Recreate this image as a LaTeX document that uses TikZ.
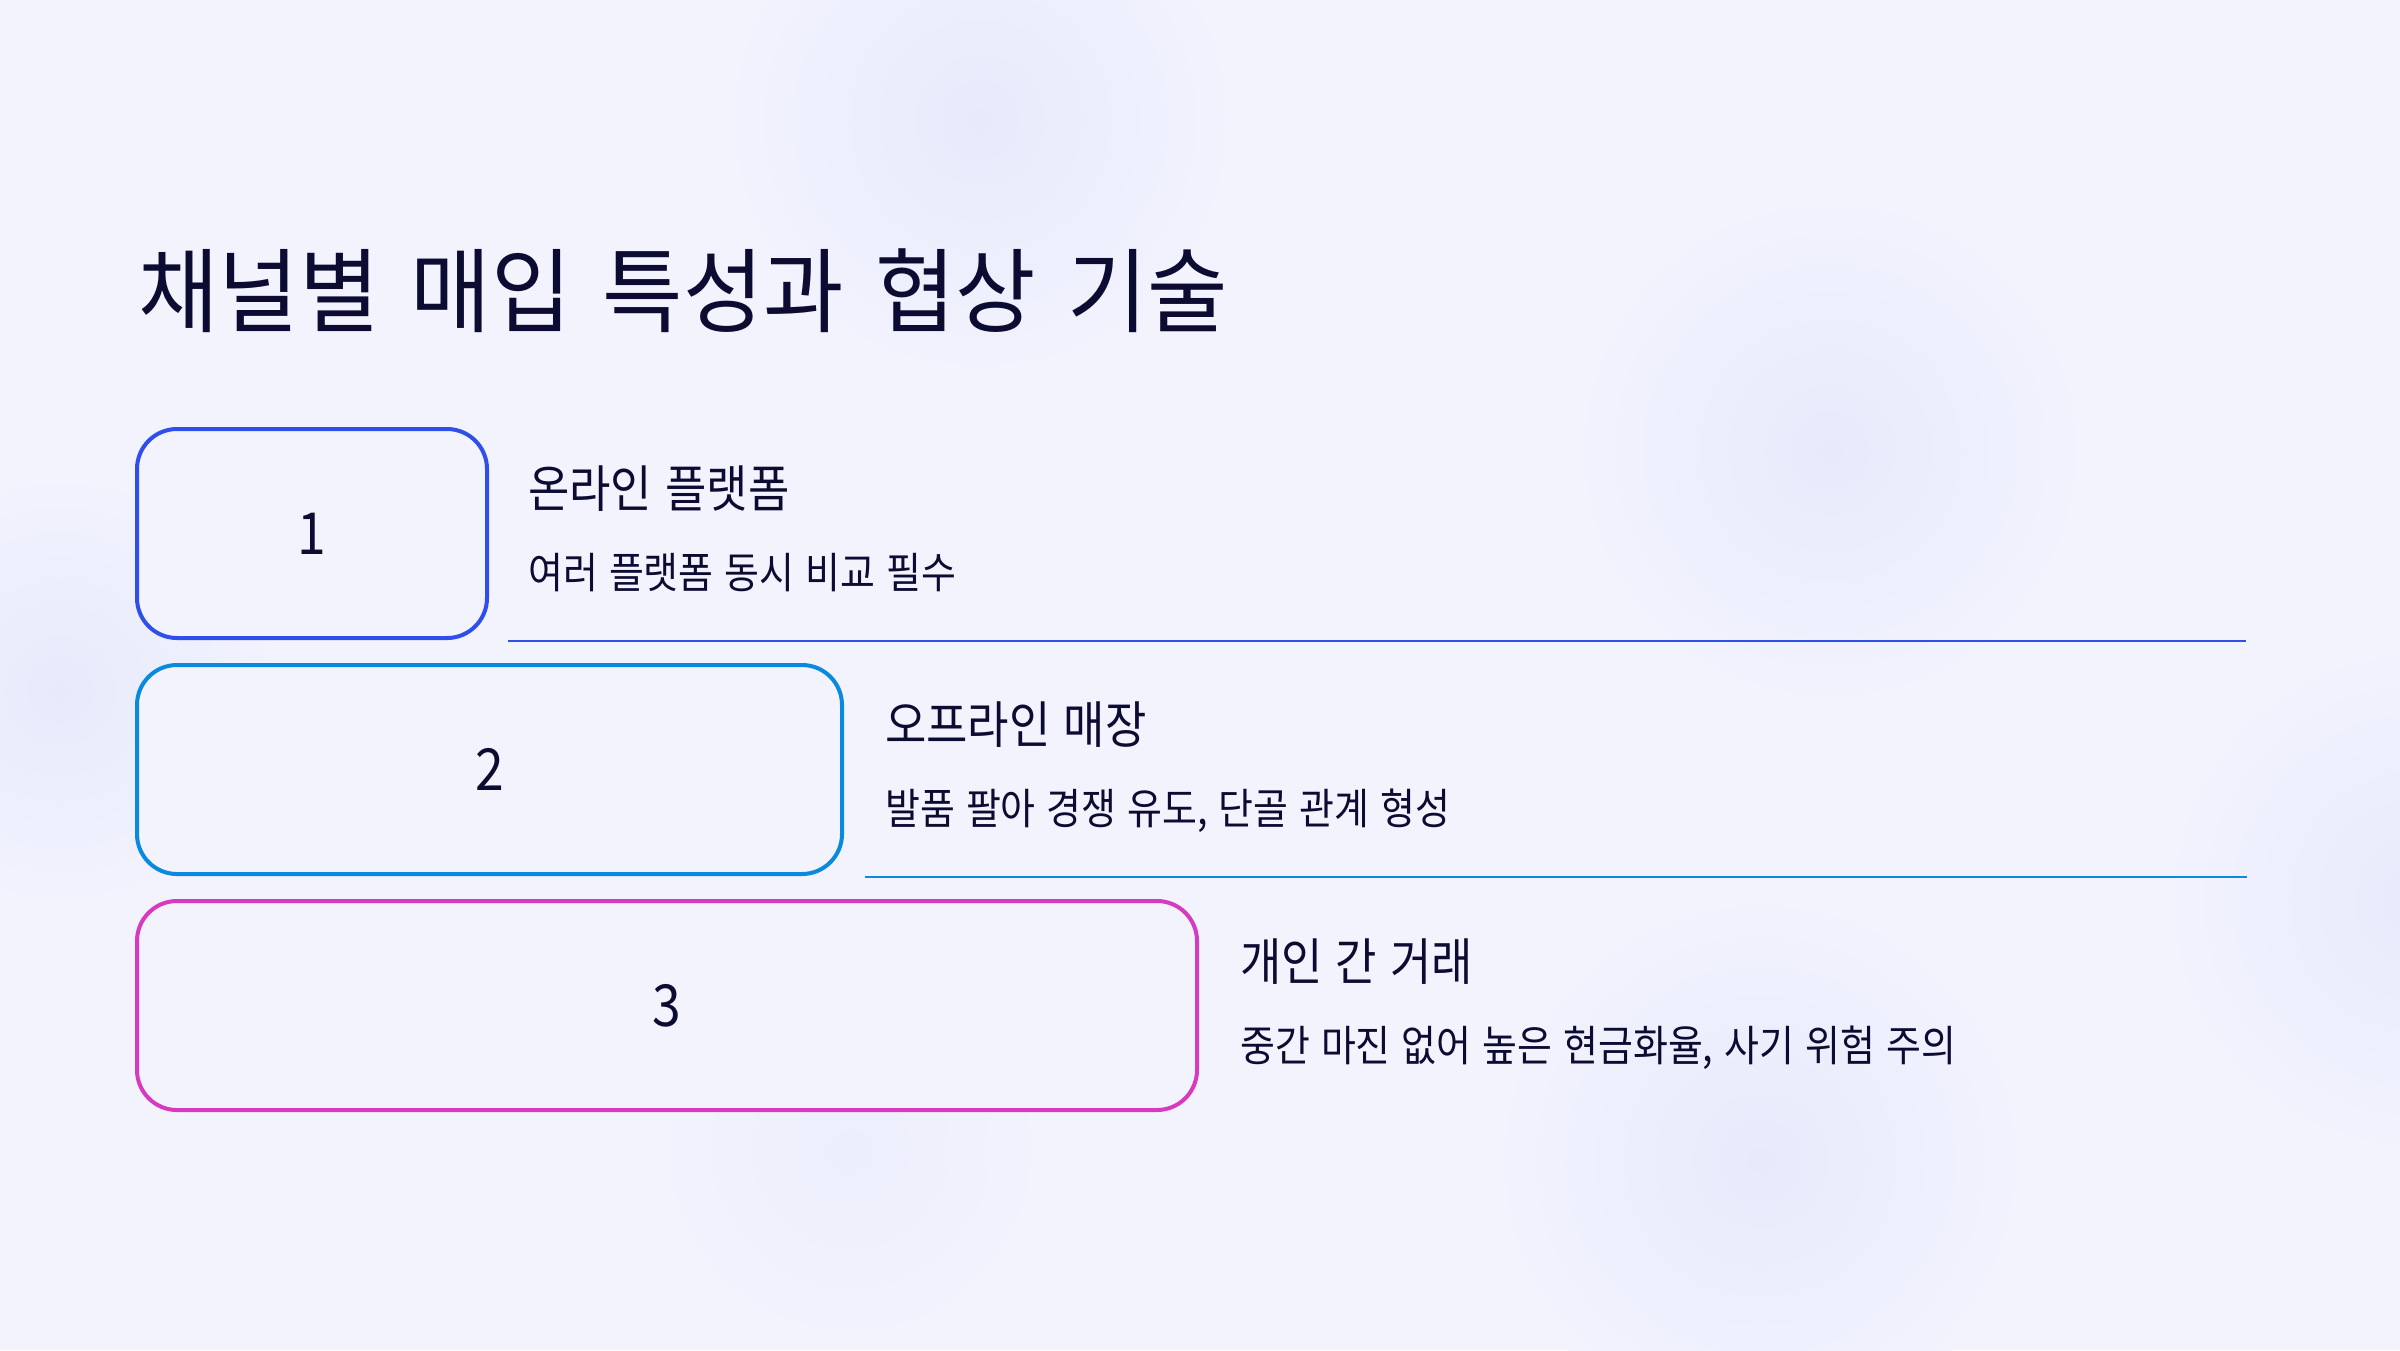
\documentclass[tikz,border=0pt]{standalone}
\usepackage{fontspec}
\newfontfamily\krtitle[FakeStretch=0.95, WordSpace=1.6]{Noto Sans CJK KR}
\newfontfamily\kr[FakeStretch=0.89, WordSpace=1.3]{Noto Sans CJK KR}
\definecolor{bg}{RGB}{242,243,253}
\definecolor{blob}{RGB}{232,234,252}
\definecolor{blobl}{RGB}{237,238,252}
\definecolor{boxfill}{RGB}{243,243,254}
\definecolor{ink}{RGB}{12,12,50}
\definecolor{cone}{RGB}{47,79,234}
\definecolor{ctwo}{RGB}{10,138,223}
\definecolor{cthree}{RGB}{214,58,192}
\tikzset{
  numbox/.style={draw, line width=4pt, rounded corners=40pt, fill=boxfill, inner sep=0pt,
    anchor=north west, minimum height=209pt, text=ink,
    font=\kr\fontsize{58}{66}\selectfont},
  headtxt/.style={anchor=base west, inner sep=0pt, text=ink, font=\kr\fontsize{50.5}{60}\selectfont},
  subtxt/.style={anchor=base west, inner sep=0pt, text=ink, font=\kr\fontsize{42.6}{52}\selectfont},
  divider/.style={line width=2.5pt},
}
\begin{document}
\begin{tikzpicture}[x=1pt,y=-1pt]
\fill[bg] (0,0) rectangle (2400,1350);
\useasboundingbox (0,0) rectangle (2400,1350);
% soft background blobs
\shade[inner color=blob, outer color=bg] (980,120) circle (260);
\shade[inner color=blob, outer color=bg] (1830,450) circle (260);
\shade[inner color=blob, outer color=bg] (1760,1160) circle (270);
\shade[inner color=blob, outer color=bg] (60,690) circle (220);
\shade[inner color=blob, outer color=bg] (2420,900) circle (260);
\shade[inner color=blobl, outer color=bg] (850,1150) circle (200);

% title
\node[anchor=base west, inner sep=0pt, text=ink, font=\krtitle\fontsize{92}{110}\selectfont] (title) at (138,325) {채널별 매입 특성과 협상 기술};

% boxes
\node[numbox, draw=cone, minimum width=350pt] (b1) at (135,427) {1};
\node[numbox, draw=ctwo, minimum width=705pt] (b2) at (135,663) {2};
\node[numbox, draw=cthree, minimum width=1060pt] (b3) at (135,899) {3};

% texts
\node[headtxt] (h1) at (528,507) {온라인 플랫폼};
\node[subtxt] (s1) at (528,588) {여러 플랫폼 동시 비교 필수};
\node[headtxt] (h2) at (885,743) {오프라인 매장};
\node[subtxt] (s2) at (885,824) {발품 팔아 경쟁 유도, 단골 관계 형성};
\node[headtxt] (h3) at (1240,980) {개인 간 거래};
\node[subtxt] (s3) at (1240,1061) {중간 마진 없어 높은 현금화율, 사기 위험 주의};

% dividers
\coordinate (l1a) at (508,641);
\coordinate (l1b) at (2246,641);
\coordinate (l2a) at (865,877);
\coordinate (l2b) at (2247,877);
\draw[divider, cone] (l1a) -- (l1b);
\draw[divider, ctwo] (l2a) -- (l2b);
\end{tikzpicture}
\end{document}
